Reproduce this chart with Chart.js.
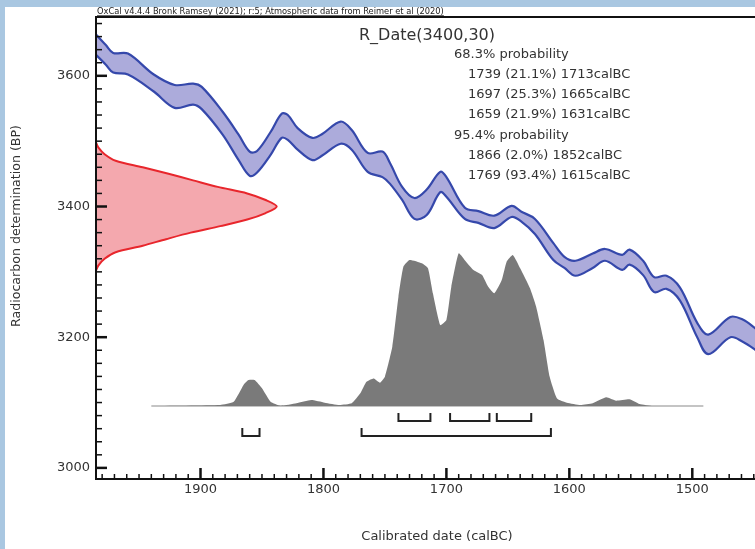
<!DOCTYPE html>
<html>
<head>
<meta charset="utf-8">
<script src="https://cdn.jsdelivr.net/npm/chart.js@4"></script>
<style>
  html, body { margin: 0; padding: 0; background: #fff; overflow: hidden; }
</style>
</head>
<body>
<canvas id="oxcal" width="755" height="549"></canvas>
<script>
// Calibration curve band (upper / lower edge, BP)
const calYears = [1990, 1985, 1977, 1971, 1959, 1938, 1921, 1906, 1899, 1882, 1869,
  1860, 1854, 1843, 1834, 1829, 1821, 1809, 1801, 1786, 1777,
  1764, 1752, 1746, 1736, 1726, 1716, 1705, 1700, 1685, 1674,
  1661, 1647, 1639, 1628, 1613, 1604, 1595, 1581, 1571, 1557,
  1551, 1540, 1531, 1521, 1510, 1496, 1487, 1469, 1459, 1449, 1440];
const calUpper = [3672, 3663, 3647, 3635, 3634, 3602, 3586, 3588, 3583, 3545, 3510,
  3484, 3485, 3514, 3542, 3540, 3520, 3505, 3511, 3530, 3517,
  3482, 3484, 3467, 3430, 3413, 3426, 3453, 3445, 3398, 3393,
  3386, 3401, 3392, 3381, 3344, 3323, 3317, 3328, 3335, 3326,
  3334, 3317, 3292, 3294, 3276, 3222, 3204, 3231, 3227, 3214, 3200];
const calLower = [3641, 3632, 3617, 3605, 3602, 3576, 3551, 3556, 3549, 3510, 3471,
  3447, 3452, 3479, 3505, 3502, 3487, 3471, 3478, 3496, 3487,
  3453, 3445, 3435, 3410, 3381, 3387, 3422, 3415, 3381, 3375,
  3367, 3384, 3377, 3358, 3318, 3306, 3294, 3306, 3317, 3303,
  3311, 3295, 3269, 3274, 3256, 3200, 3174, 3200, 3193, 3181, 3168];

// Radiocarbon date 3400 +/- 30 drawn against the BP axis
const rDateBP = [3498, 3490, 3480, 3470, 3460, 3450, 3440, 3430, 3420, 3410, 3400,
  3390, 3380, 3370, 3360, 3350, 3340, 3330, 3320, 3310, 3302];
const rDateYear = [1985, 1983, 1978, 1969, 1947, 1926, 1906, 1886, 1862, 1847, 1838,
  1847, 1862, 1884, 1908, 1928, 1947, 1969, 1978, 1983, 1985];

// Calibrated probability distribution
const probYears = [1940, 1884, 1873, 1865, 1861, 1856, 1850, 1843, 1835, 1822,
  1810, 1799, 1787, 1777, 1770, 1765, 1759, 1754, 1750, 1744,
  1739, 1735, 1730, 1720, 1715, 1711, 1705, 1700, 1696, 1690,
  1684, 1678, 1671, 1666, 1661, 1655, 1651, 1646, 1640, 1632,
  1627, 1621, 1616, 1610, 1602, 1591, 1581, 1570, 1562, 1551,
  1543, 1532, 1491];
const probDensity = [0, 0.007, 0.028, 0.138, 0.170, 0.170, 0.116, 0.028, 0.002, 0.018,
  0.039, 0.022, 0.007, 0.018, 0.083, 0.159, 0.181, 0.153, 0.192, 0.388,
  0.716, 0.912, 0.956, 0.935, 0.902, 0.738, 0.530, 0.563, 0.781, 1.000,
  0.945, 0.891, 0.858, 0.781, 0.738, 0.825, 0.945, 0.989, 0.902, 0.771,
  0.650, 0.432, 0.192, 0.050, 0.022, 0.007, 0.018, 0.057, 0.035, 0.044,
  0.013, 0, 0];

// Ranges: [from, to, percent]
const range68 = [[1739, 1713, 21.1], [1697, 1665, 25.3], [1659, 1631, 21.9]];
const range95 = [[1866, 1852, 2.0], [1769, 1615, 93.4]];

const xTicks = [1900, 1800, 1700, 1600, 1500];
const yTicks = [3000, 3200, 3400, 3600];

const headerText = 'OxCal v4.4.4 Bronk Ramsey (2021); r:5; Atmospheric data from Reimer et al (2020)';
const dateTitle = 'R_Date(3400,30)';
const xTitle = 'Calibrated date (calBC)';
const yTitle = 'Radiocarbon determination (BP)';

const FONT = '"DejaVu Sans", sans-serif';
const toPts = (xs, ys) => xs.map((t, i) => ({ x: t, y: ys[i] }));
const fmtRange = r => `${r[0]} (${r[2].toFixed(1)}%) ${r[1]}calBC`;

const oxcalFrame = {
  id: 'oxcalFrame',
  beforeDraw(chart) {
    const ctx = chart.ctx;
    ctx.save();
    ctx.fillStyle = '#fff';
    ctx.fillRect(0, 0, chart.width, chart.height);
    ctx.fillStyle = '#a9c7e1';
    ctx.fillRect(0, 0, 5, chart.height);
    ctx.fillRect(0, 0, chart.width, 7);
    ctx.restore();
  },
  afterDatasetsDraw(chart) {
    const { ctx, chartArea: a, scales: { x, y } } = chart;
    const line = (x1, y1, x2, y2) => {
      ctx.beginPath(); ctx.moveTo(x1, y1); ctx.lineTo(x2, y2); ctx.stroke();
    };
    ctx.save();

    // brackets for the probability ranges
    ctx.strokeStyle = '#222';
    ctx.lineWidth = 2;
    const bracket = (r, yb) => {
      const x1 = x.getPixelForValue(r[0]), x2 = x.getPixelForValue(r[1]);
      ctx.beginPath();
      ctx.moveTo(x1, yb - 8); ctx.lineTo(x1, yb); ctx.lineTo(x2, yb); ctx.lineTo(x2, yb - 8);
      ctx.stroke();
    };
    range68.forEach(r => bracket(r, 421));
    range95.forEach(r => bracket(r, 436));

    // frame
    ctx.strokeStyle = '#111';
    ctx.lineWidth = 2;
    line(a.left, a.top, a.left, a.bottom + 1);
    line(a.left - 1, a.bottom, a.right, a.bottom);
    line(a.left - 1, a.top, a.right, a.top);

    // y ticks (inward)
    for (let v = 3000; v <= y.max; v += 20) {
      const py = y.getPixelForValue(v);
      const major = yTicks.includes(v);
      ctx.lineWidth = major ? 2.5 : 1.5;
      line(a.left, py, a.left + (major ? 11 : 6), py);
    }
    // x ticks (inward)
    for (let v = 1450; v <= x.max; v += 10) {
      const px = x.getPixelForValue(v);
      const major = xTicks.includes(v);
      ctx.lineWidth = major ? 2.5 : 1.5;
      line(px, a.bottom, px, a.bottom - (major ? 11 : 5));
    }

    // tick labels
    ctx.fillStyle = '#333';
    ctx.font = '13px ' + FONT;
    ctx.textAlign = 'right';
    ctx.textBaseline = 'middle';
    yTicks.forEach(v => ctx.fillText(String(v), a.left - 6, y.getPixelForValue(v)));
    ctx.textAlign = 'center';
    ctx.textBaseline = 'top';
    xTicks.forEach(v => ctx.fillText(String(v), x.getPixelForValue(v), a.bottom + 4));

    // axis titles
    ctx.fillText(xTitle, 437, 530);
    ctx.save();
    ctx.translate(17, 226);
    ctx.rotate(-Math.PI / 2);
    ctx.font = '12.6px ' + FONT;
    ctx.textBaseline = 'middle';
    ctx.fillText(yTitle, 0, 0);
    ctx.restore();

    // header
    ctx.fillStyle = '#222';
    ctx.font = '8.3px ' + FONT;
    ctx.textAlign = 'left';
    ctx.textBaseline = 'alphabetic';
    ctx.fillText(headerText, 97, 14);
    const hw = ctx.measureText(headerText).width;
    ctx.lineWidth = 0.8;
    ctx.strokeStyle = '#444';
    line(97, 15.5, 97 + hw, 15.5);

    // summary
    ctx.fillStyle = '#333';
    ctx.textBaseline = 'middle';
    ctx.font = '16px ' + FONT;
    ctx.fillText(dateTitle, 359, 36);
    ctx.font = '13px ' + FONT;
    let ly = 54.5;
    ctx.fillText('68.3% probability', 454, ly);
    range68.forEach(r => { ly += 20.2; ctx.fillText(fmtRange(r), 468, ly); });
    ly += 20.2;
    ctx.fillText('95.4% probability', 454, ly);
    range95.forEach(r => { ly += 20.2; ctx.fillText(fmtRange(r), 468, ly); });

    ctx.restore();
  }
};

new Chart(document.getElementById('oxcal'), {
  type: 'line',
  data: {
    datasets: [
      {
        label: 'IntCal20 upper',
        data: toPts(calYears, calUpper),
        borderColor: '#3548ab',
        borderWidth: 2.2,
        fill: false,
        tension: 0.35
      },
      {
        label: 'IntCal20 lower',
        data: toPts(calYears, calLower),
        borderColor: '#3548ab',
        borderWidth: 2.2,
        backgroundColor: '#acabdb',
        fill: '-1',
        tension: 0.35
      },
      {
        label: 'R_Date',
        data: toPts(rDateYear, rDateBP),
        borderColor: '#e8262c',
        borderWidth: 2,
        backgroundColor: '#f4a8ae',
        fill: 'shape',
        tension: 0.3
      },
      {
        label: 'Calibrated',
        yAxisID: 'yp',
        data: toPts(probYears, probDensity),
        borderWidth: 0,
        borderColor: '#7a7a7a',
        backgroundColor: '#7a7a7a',
        fill: 'origin',
        tension: 0.15
      },
      {
        label: 'baseline',
        yAxisID: 'yp',
        data: [{ x: probYears[0], y: 0 }, { x: probYears[probYears.length - 1], y: 0 }],
        borderColor: '#c4c4c4',
        borderWidth: 2,
        fill: false
      }
    ]
  },
  options: {
    responsive: false,
    animation: false,
    layout: { padding: { left: 96, top: 17, right: 0, bottom: 70 } },
    elements: { point: { radius: 0 } },
    plugins: { legend: { display: false }, tooltip: { enabled: false } },
    scales: {
      x: { type: 'linear', reverse: true, min: 1449, max: 1985, display: false },
      y: { type: 'linear', min: 2983, max: 3690, display: false },
      yp: { type: 'linear', min: -0.478, max: 2.548, display: false }
    }
  },
  plugins: [oxcalFrame]
});
</script>
</body>
</html>
